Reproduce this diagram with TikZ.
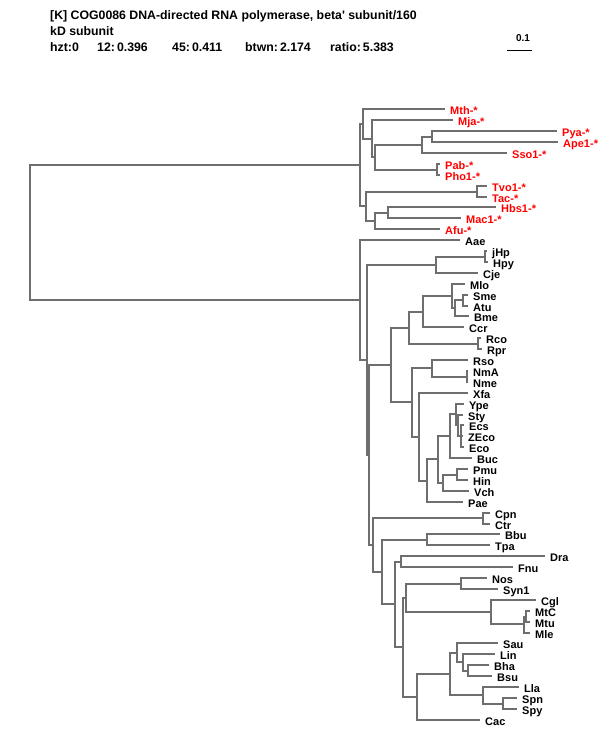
\documentclass[tikz,border=0pt]{standalone}
\usepackage{fontspec}
\setmainfont{Liberation Sans}
\definecolor{edgegray}{RGB}{110,110,110}
\definecolor{archred}{RGB}{255,0,0}
\begin{document}
\begin{tikzpicture}[x=1pt,y=-1pt,
  lbl/.style={anchor=base west, inner sep=0pt, xshift=5pt, yshift=-5.5pt, font=\fontsize{11}{13}\selectfont\bfseries},
  arch/.style={lbl, text=archred},
  head/.style={anchor=base west, inner sep=0pt, font=\fontsize{12.3}{14}\selectfont\bfseries},
  br/.style={draw=edgegray, line width=2pt}]
\useasboundingbox (0,0) rectangle (600,750);

\node[head] (title) at (50,19.5) {[K] COG0086 DNA-directed RNA polymerase, beta\textquotesingle{} subunit/160};
\node[head] (title2) at (50,35.5) {kD subunit};
\node[head] (hzt) at (50,51.5) {hzt:0};
\node[head] (narch) at (97,51.5) {12:\,0.396};
\node[head] (nbac) at (172,51.5) {45:\,0.411};
\node[head] (btwn) at (245,51.5) {btwn:\,2.174};
\node[head] (ratio) at (330,51.5) {ratio:\,5.383};
\node[anchor=base, inner sep=0pt, font=\fontsize{10}{12}\selectfont\bfseries] (sclbl) at (523,41) {0.1};
\coordinate (scl0) at (507,50.5);
\coordinate (scl1) at (532,50.5);
\draw[line width=1pt] (scl0) -- (scl1);

\coordinate (nid0) at (30,232);
\coordinate (nid1) at (360,165);
\coordinate (nid2) at (363,124);
\coordinate (nid3) at (372,139);
\coordinate (nid4) at (375,157);
\coordinate (nid5) at (422,145);
\coordinate (nid6) at (432,137);
\coordinate (nid7) at (437,170);
\coordinate (nid8) at (366,206);
\coordinate (nid9) at (477,192);
\coordinate (nid10) at (375,221);
\coordinate (nid11) at (388,213);
\coordinate (Mth) at (445,109);  \node[arch] (lMth) at (Mth) {Mth-*};
\coordinate (Mja) at (453,120);  \node[arch] (lMja) at (Mja) {Mja-*};
\coordinate (Pya) at (557,131);  \node[arch] (lPya) at (Pya) {Pya-*};
\coordinate (Ape1) at (558,142); \node[arch] (lApe1) at (Ape1) {Ape1-*};
\coordinate (Sso1) at (507,153); \node[arch] (lSso1) at (Sso1) {Sso1-*};
\coordinate (Pab) at (440,164);  \node[arch] (lPab) at (Pab) {Pab-*};
\coordinate (Pho1) at (440,175); \node[arch] (lPho1) at (Pho1) {Pho1-*};
\coordinate (Tvo1) at (487,186); \node[arch] (lTvo1) at (Tvo1) {Tvo1-*};
\coordinate (Tac) at (487,197);  \node[arch] (lTac) at (Tac) {Tac-*};
\coordinate (Hbs1) at (496,207); \node[arch] (lHbs1) at (Hbs1) {Hbs1-*};
\coordinate (Mac1) at (461,218); \node[arch] (lMac1) at (Mac1) {Mac1-*};
\coordinate (Afu) at (440,229);  \node[arch] (lAfu) at (Afu) {Afu-*};
\draw[br](nid0) |- (nid1);
\draw[br](nid1) |- (nid2);
\draw[br](nid1) |- (nid8);
\draw[br](nid2) |- (Mth);
\draw[br](nid2) |- (nid3);
\draw[br](nid3) |- (Mja);
\draw[br](nid3) |- (nid4);
\draw[br](nid4) |- (nid5);
\draw[br](nid4) |- (nid7);
\draw[br](nid5) |- (nid6);
\draw[br](nid5) |- (Sso1);
\draw[br](nid6) |- (Pya);
\draw[br](nid6) |- (Ape1);
\draw[br](nid7) |- (Pab);
\draw[br](nid7) |- (Pho1);
\draw[br](nid8) |- (nid9);
\draw[br](nid8) |- (nid10);
\draw[br](nid9) |- (Tvo1);
\draw[br](nid9) |- (Tac);
\draw[br](nid10) |- (nid11);
\draw[br](nid10) |- (Afu);
\draw[br](nid11) |- (Hbs1);
\draw[br](nid11) |- (Mac1);

\coordinate (nid12) at (360,300);
\coordinate (nid13) at (367,360);
\coordinate (nid14) at (436,265);
\coordinate (nid15) at (485,257);
\coordinate (nid16) at (369,455);
\coordinate (nid17) at (391,365);
\coordinate (nid18) at (409,328);
\coordinate (nid19) at (423,312);
\coordinate (nid20) at (452,296);
\coordinate (nid21) at (455,308);
\coordinate (nid22) at (463,300);
\coordinate (nid23) at (478,344);
\coordinate (nid24) at (412,402);
\coordinate (nid25) at (432,368);
\coordinate (nid26) at (467,377);
\coordinate (nid27) at (419,437);
\coordinate (nid28) at (427,481);
\coordinate (nid29) at (438,459);
\coordinate (nid30) at (450,436);
\coordinate (nid31) at (456,414);
\coordinate (nid32) at (458,425);
\coordinate (nid33) at (461,436);
\coordinate (nid34) at (443,483);
\coordinate (nid35) at (457,475);
\coordinate (Aae) at (460,240);  \node[lbl] (lAae) at (Aae) {Aae};
\coordinate (jHp) at (487,251);  \node[lbl] (ljHp) at (jHp) {jHp};
\coordinate (Hpy) at (488,262);  \node[lbl] (lHpy) at (Hpy) {Hpy};
\coordinate (Cje) at (478,273);  \node[lbl] (lCje) at (Cje) {Cje};
\coordinate (Mlo) at (465,284);  \node[lbl] (lMlo) at (Mlo) {Mlo};
\coordinate (Sme) at (468,295);  \node[lbl] (lSme) at (Sme) {Sme};
\coordinate (Atu) at (468,306);  \node[lbl] (lAtu) at (Atu) {Atu};
\coordinate (Bme) at (469,316);  \node[lbl] (lBme) at (Bme) {Bme};
\coordinate (Ccr) at (464,327);  \node[lbl] (lCcr) at (Ccr) {Ccr};
\coordinate (Rco) at (481,338);  \node[lbl] (lRco) at (Rco) {Rco};
\coordinate (Rpr) at (482,349);  \node[lbl] (lRpr) at (Rpr) {Rpr};
\coordinate (Rso) at (468,360);  \node[lbl] (lRso) at (Rso) {Rso};
\coordinate (NmA) at (468,371);  \node[lbl] (lNmA) at (NmA) {NmA};
\coordinate (Nme) at (468,382);  \node[lbl] (lNme) at (Nme) {Nme};
\coordinate (Xfa) at (468,393);  \node[lbl] (lXfa) at (Xfa) {Xfa};
\coordinate (Ype) at (464,404);  \node[lbl] (lYpe) at (Ype) {Ype};
\coordinate (Sty) at (463,415);  \node[lbl] (lSty) at (Sty) {Sty};
\coordinate (Ecs) at (464,425);  \node[lbl] (lEcs) at (Ecs) {Ecs};
\coordinate (ZEco) at (463,436); \node[lbl] (lZEco) at (ZEco) {ZEco};
\coordinate (Eco) at (464,447);  \node[lbl] (lEco) at (Eco) {Eco};
\coordinate (Buc) at (472,458);  \node[lbl] (lBuc) at (Buc) {Buc};
\coordinate (Pmu) at (468,469);  \node[lbl] (lPmu) at (Pmu) {Pmu};
\coordinate (Hin) at (468,480);  \node[lbl] (lHin) at (Hin) {Hin};
\coordinate (Vch) at (469,491);  \node[lbl] (lVch) at (Vch) {Vch};
\coordinate (Pae) at (463,502);  \node[lbl] (lPae) at (Pae) {Pae};
\draw[br](nid0) |- (nid12);
\draw[br](nid12) |- (Aae);
\draw[br](nid12) |- (nid13);
\draw[br](nid13) |- (nid14);
\draw[br](nid13) |- (nid16);
\draw[br](nid14) |- (nid15);
\draw[br](nid14) |- (Cje);
\draw[br](nid15) |- (jHp);
\draw[br](nid15) |- (Hpy);
\draw[br](nid16) |- (nid17);
\draw[br](nid17) |- (nid18);
\draw[br](nid17) |- (nid24);
\draw[br](nid18) |- (nid19);
\draw[br](nid18) |- (nid23);
\draw[br](nid19) |- (nid20);
\draw[br](nid19) |- (Ccr);
\draw[br](nid20) |- (Mlo);
\draw[br](nid20) |- (nid21);
\draw[br](nid21) |- (nid22);
\draw[br](nid21) |- (Bme);
\draw[br](nid22) |- (Sme);
\draw[br](nid22) |- (Atu);
\draw[br](nid23) |- (Rco);
\draw[br](nid23) |- (Rpr);
\draw[br](nid24) |- (nid25);
\draw[br](nid24) |- (nid27);
\draw[br](nid25) |- (Rso);
\draw[br](nid25) |- (nid26);
\draw[br](nid26) |- (NmA);
\draw[br](nid26) |- (Nme);
\draw[br](nid27) |- (Xfa);
\draw[br](nid27) |- (nid28);
\draw[br](nid28) |- (nid29);
\draw[br](nid28) |- (Pae);
\draw[br](nid29) |- (nid30);
\draw[br](nid29) |- (nid34);
\draw[br](nid30) |- (nid31);
\draw[br](nid30) |- (Buc);
\draw[br](nid31) |- (Ype);
\draw[br](nid31) |- (nid32);
\draw[br](nid32) |- (Sty);
\draw[br](nid32) |- (nid33);
\draw[br](nid33) |- (Ecs);
\draw[br](nid33) |- (ZEco);
\draw[br](nid33) |- (Eco);
\draw[br](nid34) |- (nid35);
\draw[br](nid34) |- (Vch);
\draw[br](nid35) |- (Pmu);
\draw[br](nid35) |- (Hin);

\coordinate (nid36) at (373,545);
\coordinate (nid37) at (483,518);
\coordinate (nid38) at (382,572);
\coordinate (nid39) at (427,540);
\coordinate (nid40) at (395,604);
\coordinate (nid41) at (401,562);
\coordinate (nid42) at (403,647);
\coordinate (nid43) at (406,598);
\coordinate (nid44) at (461,584);
\coordinate (nid45) at (491,612);
\coordinate (nid46) at (524,624);
\coordinate (nid47) at (526,617);
\coordinate (nid48) at (417,697);
\coordinate (nid49) at (450,674);
\coordinate (nid50) at (457,653);
\coordinate (nid51) at (463,662);
\coordinate (nid52) at (468,671);
\coordinate (nid53) at (483,695);
\coordinate (nid54) at (503,704);
\coordinate (Cpn) at (490,513);  \node[lbl] (lCpn) at (Cpn) {Cpn};
\coordinate (Ctr) at (490,524);  \node[lbl] (lCtr) at (Ctr) {Ctr};
\coordinate (Bbu) at (500,534);  \node[lbl] (lBbu) at (Bbu) {Bbu};
\coordinate (Tpa) at (490,545);  \node[lbl] (lTpa) at (Tpa) {Tpa};
\coordinate (Dra) at (545,556);  \node[lbl] (lDra) at (Dra) {Dra};
\coordinate (Fnu) at (513,567);  \node[lbl] (lFnu) at (Fnu) {Fnu};
\coordinate (Nos) at (487,578);  \node[lbl] (lNos) at (Nos) {Nos};
\coordinate (Syn1) at (498,589); \node[lbl] (lSyn1) at (Syn1) {Syn1};
\coordinate (Cgl) at (536,600);  \node[lbl] (lCgl) at (Cgl) {Cgl};
\coordinate (MtC) at (530,611);  \node[lbl] (lMtC) at (MtC) {MtC};
\coordinate (Mtu) at (530,622);  \node[lbl] (lMtu) at (Mtu) {Mtu};
\coordinate (Mle) at (530,633);  \node[lbl] (lMle) at (Mle) {Mle};
\coordinate (Sau) at (498,643);  \node[lbl] (lSau) at (Sau) {Sau};
\coordinate (Lin) at (495,654);  \node[lbl] (lLin) at (Lin) {Lin};
\coordinate (Bha) at (489,665);  \node[lbl] (lBha) at (Bha) {Bha};
\coordinate (Bsu) at (492,676);  \node[lbl] (lBsu) at (Bsu) {Bsu};
\coordinate (Lla) at (519,687);  \node[lbl] (lLla) at (Lla) {Lla};
\coordinate (Spn) at (517,698);  \node[lbl] (lSpn) at (Spn) {Spn};
\coordinate (Spy) at (517,709);  \node[lbl] (lSpy) at (Spy) {Spy};
\coordinate (Cac) at (480,720);  \node[lbl] (lCac) at (Cac) {Cac};
\draw[br](nid16) |- (nid36);
\draw[br](nid36) |- (nid37);
\draw[br](nid36) |- (nid38);
\draw[br](nid37) |- (Cpn);
\draw[br](nid37) |- (Ctr);
\draw[br](nid38) |- (nid39);
\draw[br](nid38) |- (nid40);
\draw[br](nid39) |- (Bbu);
\draw[br](nid39) |- (Tpa);
\draw[br](nid40) |- (nid41);
\draw[br](nid40) |- (nid42);
\draw[br](nid41) |- (Dra);
\draw[br](nid41) |- (Fnu);
\draw[br](nid42) |- (nid43);
\draw[br](nid42) |- (nid48);
\draw[br](nid43) |- (nid44);
\draw[br](nid43) |- (nid45);
\draw[br](nid44) |- (Nos);
\draw[br](nid44) |- (Syn1);
\draw[br](nid45) |- (Cgl);
\draw[br](nid45) |- (nid46);
\draw[br](nid46) |- (nid47);
\draw[br](nid46) |- (Mle);
\draw[br](nid47) |- (MtC);
\draw[br](nid47) |- (Mtu);
\draw[br](nid48) |- (nid49);
\draw[br](nid48) |- (Cac);
\draw[br](nid49) |- (nid50);
\draw[br](nid49) |- (nid53);
\draw[br](nid50) |- (Sau);
\draw[br](nid50) |- (nid51);
\draw[br](nid51) |- (Lin);
\draw[br](nid51) |- (nid52);
\draw[br](nid52) |- (Bha);
\draw[br](nid52) |- (Bsu);
\draw[br](nid53) |- (Lla);
\draw[br](nid53) |- (nid54);
\draw[br](nid54) |- (Spn);
\draw[br](nid54) |- (Spy);

\end{tikzpicture}
\end{document}
